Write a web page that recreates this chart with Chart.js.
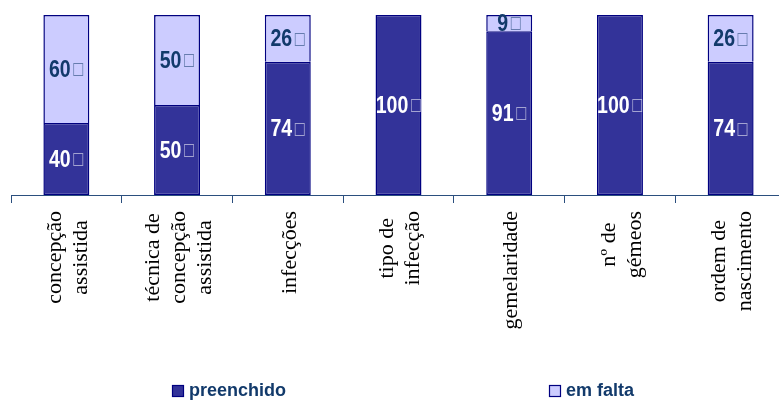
<!DOCTYPE html>
<html>
<head>
<meta charset="utf-8">
<script src="https://cdn.jsdelivr.net/npm/chart.js@4.4.1/dist/chart.umd.min.js"></script>
<style>
  html, body { margin: 0; padding: 0; background: #fff; overflow: hidden; }
  #wrap { width: 787px; height: 403px; }
</style>
</head>
<body>
<div id="wrap"><canvas id="barChart" width="787" height="403"></canvas></div>
<script>
// categorias (uma linha por entrada, o texto é desenhado na vertical)
const categorias = [
  ['concepção', 'assistida'],
  ['técnica de', 'concepção', 'assistida'],
  ['infecções'],
  ['tipo de', 'infecção'],
  ['gemelaridade'],
  ['nº de', 'gémeos'],
  ['ordem de', 'nascimento']
];
const preenchido = [40, 50, 74, 100, 91, 100, 74];
const emFalta = [60, 50, 26, 0, 9, 0, 26];
const legendas = ['preenchido', 'em falta'];

const corEscura = '#333399';
const corClara = '#CCCCFF';
const corBorda = '#000080';
const corTexto = '#123A6B';
const corEixo = '#2B4F7E';

const fonteNum = 'bold 23px "Liberation Sans", Arial, sans-serif';
const fonteCaixa = '20px "DejaVu Sans", sans-serif';
const caixa = '\u25A1';

// valores dentro das barras (o símbolo de % aparece como caixa)
const rotulosBarras = {
  id: 'rotulosBarras',
  afterDatasetsDraw(chart) {
    const ctx = chart.ctx;
    ctx.save();
    ctx.font = fonteCaixa;
    const mc = ctx.measureText(caixa);
    const gw = mc.actualBoundingBoxLeft + mc.actualBoundingBoxRight;
    const gh = mc.actualBoundingBoxAscent + mc.actualBoundingBoxDescent;
    const sx = 11 / gw, sy = 14 / gh;
    ctx.restore();

    chart.data.datasets.forEach((ds, i) => {
      const meta = chart.getDatasetMeta(i);
      meta.data.forEach((bar, j) => {
        const v = ds.data[j];
        if (!v) return;
        const p = bar.getProps(['x', 'y', 'base'], true);
        const cy = (p.y + p.base) / 2;
        const num = String(v);
        ctx.save();
        ctx.font = fonteNum;
        const w1 = ctx.measureText(num).width * 0.85;
        const total = w1 + 2 + 11;
        const x0 = p.x - total / 2;
        const base = cy + 8;
        ctx.fillStyle = ds.corRotulo;
        ctx.textBaseline = 'alphabetic';
        ctx.textAlign = 'left';
        ctx.save();
        ctx.translate(x0, base);
        ctx.scale(0.85, 1);
        ctx.fillText(num, 0, 0);
        ctx.restore();
        // caixa
        ctx.globalAlpha = 0.55;
        ctx.font = fonteCaixa;
        ctx.translate(x0 + w1 + 2, base);
        ctx.scale(sx, sy);
        ctx.fillText(caixa, mc.actualBoundingBoxLeft, -mc.actualBoundingBoxDescent);
        ctx.restore();
      });
    });
  }
};

// nomes das categorias, rodados e centrados linha a linha
const rotulosEixo = {
  id: 'rotulosEixo',
  afterDraw(chart) {
    const ctx = chart.ctx;
    const xs = chart.scales.x;
    const topo = xs.top + 16;
    const entreLinhas = 26;
    ctx.save();
    ctx.font = '22px "Liberation Serif", "Times New Roman", serif';
    ctx.fillStyle = '#000';
    ctx.textAlign = 'center';
    ctx.textBaseline = 'middle';
    categorias.forEach((linhas, i) => {
      const x = xs.getPixelForValue(i) + 2;
      const maior = Math.max(...linhas.map(l => ctx.measureText(l).width));
      const cy = topo + maior / 2;
      ctx.save();
      ctx.translate(x, cy);
      ctx.rotate(-Math.PI / 2);
      linhas.forEach((l, k) => {
        const off = (k - (linhas.length - 1) / 2) * entreLinhas;
        ctx.fillText(l, 0, off);
      });
      ctx.restore();
    });
    ctx.restore();
  }
};

// legenda em baixo
const legendaBaixo = {
  id: 'legendaBaixo',
  afterDraw(chart) {
    const ctx = chart.ctx;
    const itens = [
      { x: 172, cor: corEscura, txt: legendas[0] },
      { x: 549, cor: corClara, txt: legendas[1] }
    ];
    const y = 391;
    ctx.save();
    itens.forEach(it => {
      ctx.fillStyle = it.cor;
      ctx.fillRect(it.x, y - 6, 12, 12);
      ctx.strokeStyle = corBorda;
      ctx.lineWidth = 1.2;
      ctx.strokeRect(it.x + 0.5, y - 5.5, 11, 11);
      ctx.fillStyle = corTexto;
      ctx.font = 'bold 18px "Liberation Sans", Arial, sans-serif';
      ctx.textBaseline = 'middle';
      ctx.textAlign = 'left';
      ctx.fillText(it.txt, it.x + 17, y);
    });
    ctx.restore();
  }
};

const ctx = document.getElementById('barChart').getContext('2d');
new Chart(ctx, {
  type: 'bar',
  data: {
    labels: categorias,
    datasets: [
      {
        label: legendas[0],
        data: preenchido,
        backgroundColor: corEscura,
        borderColor: corBorda,
        borderWidth: 1.5,
        borderSkipped: false,
        corRotulo: '#FFFFFF'
      },
      {
        label: legendas[1],
        data: emFalta,
        backgroundColor: corClara,
        borderColor: corBorda,
        borderWidth: 1.5,
        borderSkipped: 'bottom',
        corRotulo: corTexto
      }
    ]
  },
  options: {
    responsive: false,
    animation: false,
    layout: { padding: { left: 11, right: 1, top: 15, bottom: 0 } },
    datasets: {
      bar: { categoryPercentage: 1, barPercentage: 0.415 }
    },
    scales: {
      x: {
        stacked: true,
        offset: true,
        grid: {
          offset: true,
          drawOnChartArea: false,
          drawTicks: true,
          tickLength: 8,
          color: corEixo
        },
        border: { display: true, color: corEixo, width: 1 },
        ticks: { display: false },
        afterFit(scale) { scale.height = 208; }
      },
      y: {
        stacked: true,
        display: false,
        min: 0,
        max: 100
      }
    },
    plugins: {
      legend: { display: false },
      tooltip: { enabled: false }
    }
  },
  plugins: [rotulosBarras, rotulosEixo, legendaBaixo]
});
</script>
</body>
</html>
